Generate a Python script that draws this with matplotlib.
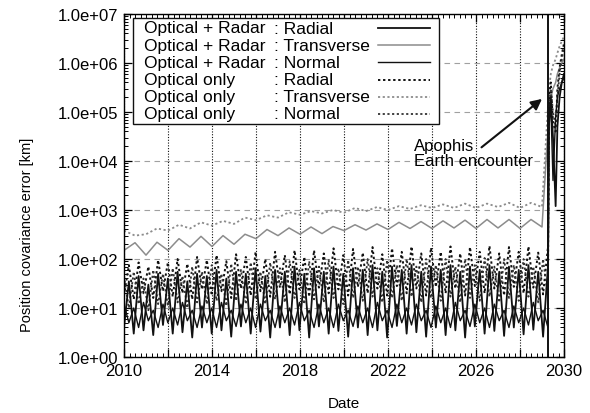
import numpy as np
import matplotlib
matplotlib.use('Agg')
import matplotlib.pyplot as plt
from matplotlib.patches import Rectangle
from matplotlib.ticker import MultipleLocator, FuncFormatter, LogLocator, NullFormatter

plt.rcParams['font.family'] = ['Liberation Sans', 'DejaVu Sans']

# fast grid: half of Apophis orbital period (~0.443 yr) between extrema
step = 0.2215
t_fast = 2010 + step * np.arange(88)
# half-year grid for the transverse curves
t_half = 2010 + 0.5 * np.arange(39)
# after the 2029 encounter
t_post = [2029.32, 2029.40, 2029.50, 2029.62, 2029.70, 2029.80, 2029.90, 2030.0]
t_encounter = 2029.28

# Optical + Radar : Radial  (troughs at even points, peaks at odd points)
r_or_tr = [4, 3, 3.5, 2.8, 4.5, 3, 3.2, 2.5, 4, 3, 3.5, 2.6, 4.2, 3, 3.3, 2.5,
           4, 2.8, 3.5, 2.5, 4.2, 3, 3.4, 2.6, 4, 2.8, 3.5, 2.5, 4.3, 3, 3.2, 2.6,
           4, 2.8, 3.5, 2.5, 4.2, 3, 3.4, 2.7, 4, 2.9, 3.6, 2.6]
r_or_pk = [35, 45, 30, 50, 40, 55, 35, 50, 45, 60, 40, 55, 50, 65, 45, 60,
           55, 70, 50, 65, 55, 70, 50, 65, 60, 75, 55, 70, 60, 75, 55, 70,
           60, 75, 55, 70, 60, 75, 55, 70, 60, 75, 55, 70]
r_or_post = [8e4, 2e5, 3e4, 1.2e3, 5e4, 2e5, 4e5, 6e5]

# Optical + Radar : Normal  (peaks at even points, troughs at odd points)
n_or_pk = [12, 10, 13, 9, 12, 10, 13, 9, 11, 10, 13, 9, 12, 10, 12, 9,
           11, 10, 13, 9, 12, 10, 12, 9, 11, 10, 13, 9, 12, 10, 12, 9,
           11, 10, 13, 9, 12, 10, 12, 9, 11, 10, 13, 9]
n_or_tr = [5, 4, 5.5, 4, 5, 4.5, 5.5, 4, 5, 4, 5.5, 4.2, 5, 4, 5.5, 4,
           5, 4.5, 5.5, 4, 5, 4, 5.5, 4.2, 5, 4, 5.5, 4, 5, 4.5, 5.5, 4,
           5, 4, 5.5, 4.2, 5, 4, 5.5, 4, 5, 4.5, 5.5, 4]
n_or_post = [5e4, 1.5e5, 4e3, 8e4, 2e5, 3e5, 4e5, 5e5]

# Optical only : Radial
r_o_tr = [18, 15, 20, 16, 22, 17, 20, 15, 24, 18, 22, 16, 25, 18, 22, 17,
          26, 19, 24, 17, 26, 20, 24, 18, 27, 20, 25, 18, 28, 20, 25, 18,
          27, 20, 25, 18, 28, 20, 25, 18, 27, 20, 26, 19]
r_o_pk = [75, 85, 70, 95, 85, 100, 80, 110, 95, 120, 90, 125, 110, 140, 100, 140,
          120, 150, 110, 150, 130, 165, 120, 160, 135, 175, 125, 165, 140, 180, 130, 170,
          140, 180, 130, 175, 140, 185, 130, 175, 140, 180, 135, 175]
r_o_post = [2e5, 4e5, 6e4, 4e4, 3e5, 8e5, 1.5e6, 2.5e6]

# Optical only : Normal
n_o_tr = [10, 12, 9, 12, 11, 13, 10, 13, 12, 14, 11, 14, 12, 15, 12, 15,
          13, 16, 12, 15, 13, 16, 12, 16, 14, 17, 13, 16, 14, 17, 13, 16,
          14, 17, 13, 16, 14, 17, 13, 16, 14, 17, 13, 16]
n_o_pk = [45, 55, 40, 60, 50, 65, 45, 70, 55, 75, 50, 80, 60, 85, 55, 85,
          65, 90, 60, 90, 70, 95, 65, 95, 70, 100, 65, 95, 75, 100, 70, 100,
          75, 100, 70, 100, 75, 105, 70, 100, 75, 100, 70, 100]
n_o_post = [1.5e5, 3e5, 1e5, 5e4, 2e5, 6e5, 1.2e6, 2e6]

# Optical + Radar : Transverse (half-year points)
t_or = [150, 215, 120, 220, 150, 260, 175, 290, 180, 300, 200, 320, 260, 400,
        300, 430, 320, 450, 330, 460, 380, 500, 390, 520, 400, 560, 420, 580,
        420, 600, 430, 620, 420, 640, 430, 640, 420, 640, 450]
t_or_post = [1e5, 2e5, 3e5, 4e5, 6e5, 8e5, 1e6, 1.2e6]

# Optical only : Transverse (half-year points)
t_o = [380, 300, 320, 420, 380, 500, 420, 560, 480, 600, 520, 700, 620, 780,
       700, 900, 800, 950, 850, 1000, 880, 1100, 950, 1150, 1000, 1200, 1050, 1250,
       1100, 1300, 1100, 1350, 1100, 1350, 1150, 1400, 1100, 1400, 1150]
t_o_post = [3e5, 6e5, 9e5, 1.2e6, 1.6e6, 2.2e6, 2.8e6, 3.5e6]

legend_src = ['Optical + Radar', 'Optical + Radar', 'Optical + Radar',
              'Optical only', 'Optical only', 'Optical only']
legend_comp = [': Radial', ': Transverse', ': Normal',
               ': Radial', ': Transverse', ': Normal']


def interleave(first, second):
    out = np.empty(len(first) + len(second))
    out[0::2] = first
    out[1::2] = second
    return out


def full(t, vals, post):
    return np.concatenate([t, t_post]), np.concatenate([vals, post])


fig = plt.figure(figsize=(5.9, 4.14), dpi=100)
ax = fig.add_axes([124 / 590, 1 - 358 / 414, 440 / 590, 343 / 414])

blk = '#111111'
gry = '#8c8c8c'
dot = (0, (1.2, 1.4))

x, y = full(t_half, t_o, t_o_post)
ax.plot(x, y, color=gry, lw=1.3, ls=dot)
x, y = full(t_half, t_or, t_or_post)
ax.plot(x, y, color=gry, lw=1.1)
x, y = full(t_fast, interleave(r_o_tr, r_o_pk), r_o_post)
ax.plot(x, y, color=blk, lw=1.4, ls=dot)
x, y = full(t_fast, interleave(n_o_pk, n_o_tr), n_o_post)
ax.plot(x, y, color='#333333', lw=1.3, ls=dot)
x, y = full(t_fast, interleave(n_or_pk, n_or_tr), n_or_post)
ax.plot(x, y, color=blk, lw=1.0)
x, y = full(t_fast, interleave(r_or_tr, r_or_pk), r_or_post)
ax.plot(x, y, color=blk, lw=1.3)

ax.axvline(t_encounter, color=blk, lw=1.4)

ax.set_yscale('log')
ax.set_xlim(2010, 2030)
ax.set_ylim(1, 1e7)

ax.xaxis.set_major_locator(MultipleLocator(2))
ax.xaxis.set_minor_locator(MultipleLocator(0.25))
ax.xaxis.set_major_formatter(FuncFormatter(
    lambda v, p: f'{v:.0f}' if round(v - 2010) % 4 == 0 else ''))
ax.yaxis.set_major_locator(LogLocator(base=10, numticks=10))
ax.yaxis.set_minor_locator(LogLocator(base=10, subs=np.arange(2, 10), numticks=20))
ax.yaxis.set_minor_formatter(NullFormatter())
ax.yaxis.set_major_formatter(FuncFormatter(lambda v, p: f'{v:.1e}'))

ax.tick_params(which='both', direction='in', top=True, right=True, labelsize=12)
ax.tick_params(which='major', length=6, width=0.9)
ax.tick_params(which='minor', length=3, width=0.7)
ax.tick_params(axis='y', pad=4)
ax.tick_params(axis='x', pad=4)

ax.grid(True, axis='x', which='major', color=blk, ls=(0, (1, 1.5)), lw=0.8)
ax.grid(True, axis='y', which='major', color='#a0a0a0', ls=(0, (5, 4)), lw=0.8)
for s in ax.spines.values():
    s.set_linewidth(1.0)

ax.set_ylabel('Position covariance error [km]', fontsize=10.5)
ax.yaxis.set_label_coords(-0.205, 0.36)
ax.set_xlabel('Date', fontsize=11)
ax.xaxis.set_label_coords(0.5, -0.115)

# annotation: label and arrow
ax.text(2023.2, 2.9e4, 'Apophis\nEarth encounter', fontsize=12, ha='left', va='top',
        linespacing=1.0)
ax.annotate('', xy=(2029.0, 1.85e5), xytext=(2026.25, 1.9e4),
            arrowprops=dict(arrowstyle='-|>', color=blk, lw=1.5, mutation_scale=16,
                            shrinkA=0, shrinkB=0))


# gnuplot-style key: text left, sample line right
def ax_px(px, py):
    return (px - 124) / 440, (358 - py) / 343


x0, y0 = ax_px(133, 125)
x1, y1 = ax_px(439, 19)
ax.add_patch(Rectangle((x0, y0), x1 - x0, y1 - y0, transform=ax.transAxes,
                       facecolor='white', edgecolor=blk, lw=1.0, zorder=5))
key_styles = [dict(color=blk, lw=1.3), dict(color=gry, lw=1.1), dict(color=blk, lw=1.0),
              dict(color=blk, lw=1.4, ls=dot), dict(color=gry, lw=1.3, ls=dot),
              dict(color='#333333', lw=1.3, ls=dot)]
for i in range(6):
    ry = 29 + 17.2 * i
    tx, ty = ax_px(144, ry)
    cx, _ = ax_px(274, ry)
    hx0, _ = ax_px(378, ry)
    hx1, _ = ax_px(430, ry)
    ax.text(tx, ty, legend_src[i], transform=ax.transAxes, fontsize=12.5,
            va='center', ha='left', zorder=6)
    ax.text(cx, ty, legend_comp[i], transform=ax.transAxes, fontsize=12.5,
            va='center', ha='left', zorder=6)
    ax.plot([hx0, hx1], [ty, ty], transform=ax.transAxes, zorder=6, **key_styles[i])

fig.savefig('out.png', dpi=100)
